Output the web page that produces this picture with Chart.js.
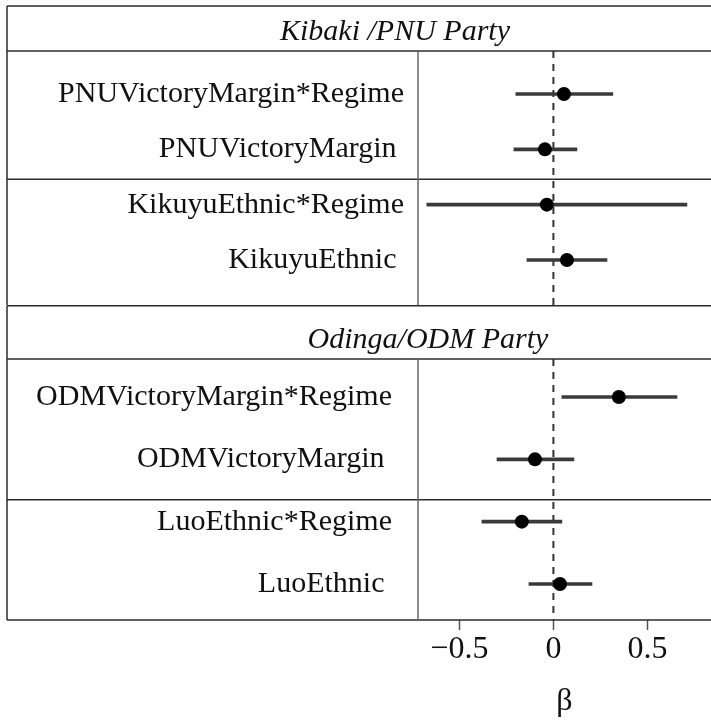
<!DOCTYPE html>
<html>
<head>
<meta charset="utf-8">
<script src="https://cdn.jsdelivr.net/npm/chart.js@4.4.0/dist/chart.umd.min.js"></script>
<style>
  html, body { margin: 0; padding: 0; background: #fff; }
  #wrap { position: relative; width: 711px; height: 721px; }
  canvas { position: absolute; left: 0; }
</style>
</head>
<body>
<div id="wrap">
  <canvas id="kibaki" width="711" height="305" style="top:0"></canvas>
  <canvas id="odinga" width="711" height="416" style="top:305px"></canvas>
</div>
<script>
// estimates and interval ends
const kibakiLabels = ['PNUVictoryMargin*Regime', 'PNUVictoryMargin ', 'KikuyuEthnic*Regime', 'KikuyuEthnic '];
const kibakiEst = [0.056, -0.045, -0.035, 0.072];
const kibakiLow = [-0.20, -0.21, -0.673, -0.141];
const kibakiHigh = [0.316, 0.125, 0.71, 0.285];

const odingaLabels = ['ODMVictoryMargin*Regime', 'ODMVictoryMargin ', 'LuoEthnic*Regime', 'LuoEthnic '];
const odingaEst = [0.348, -0.098, -0.168, 0.035];
const odingaLow = [0.045, -0.30, -0.38, -0.13];
const odingaHigh = [0.657, 0.109, 0.045, 0.205];

const xTicks = [-0.5, 0, 0.5];

const serif = '"Liberation Serif", "Times New Roman", serif';

// box lines, the party title and the dashed zero line
const framePlugin = {
    id: 'frame',
    beforeDatasetsDraw(chart, args, o) {
        const { ctx, chartArea: a, scales } = chart;
        const line = (x0, y0, x1, y1) => {
            ctx.beginPath();
            ctx.moveTo(x0, y0);
            ctx.lineTo(x1, y1);
            ctx.stroke();
        };
        const sep = scales.y.getPixelForValue(o.brk);
        ctx.save();
        ctx.strokeStyle = '#2b2b2b';
        ctx.lineWidth = 1.5;
        line(7, o.top, chart.width, o.top);
        line(7, a.top, chart.width, a.top);
        line(7, sep, chart.width, sep);
        if (o.closed) line(7, a.bottom, chart.width, a.bottom);
        line(7, o.top, 7, a.bottom);
        ctx.strokeStyle = '#666';
        line(a.left, a.top, a.left, a.bottom);

        const zx = scales.x.getPixelForValue(0);
        ctx.strokeStyle = '#333';
        ctx.lineWidth = 2;
        ctx.setLineDash([7, 6]);
        line(zx, a.top, zx, a.bottom);
        ctx.setLineDash([]);

        ctx.fillStyle = '#111';
        ctx.font = 'italic 30px ' + serif;
        ctx.textAlign = 'center';
        ctx.textBaseline = 'alphabetic';
        ctx.fillText(o.title, o.titleX, o.titleBase);
        ctx.restore();
    }
};

function sectionChart(id, labels, est, low, high, o) {
    return new Chart(document.getElementById(id), {
        type: 'bar',
        data: {
            datasets: [
                {
                    type: 'bar',
                    data: labels.map((l, i) => ({ y: i, x: [low[i], high[i]] })),
                    backgroundColor: '#3a3a3a',
                    barThickness: 3,
                    order: 2
                },
                {
                    type: 'scatter',
                    data: labels.map((l, i) => ({ y: i, x: est[i] })),
                    pointRadius: 7,
                    backgroundColor: '#000',
                    borderWidth: 0,
                    order: 1
                }
            ]
        },
        options: {
            indexAxis: 'y',
            responsive: false,
            animation: false,
            layout: { autoPadding: false, padding: { top: o.padTop, left: 0, right: 0, bottom: 0 } },
            plugins: {
                legend: { display: false },
                tooltip: { enabled: false },
                frame: o.frame
            },
            scales: {
                x: {
                    type: 'linear',
                    min: -0.72,
                    max: 0.838,
                    display: o.showX,
                    afterBuildTicks: s => { s.ticks = xTicks.map(v => ({ value: v })); },
                    afterFit: s => {
                        if (o.showX) s.height = o.axisHeight;
                        s.paddingLeft = 0;
                        s.paddingRight = 0;
                    },
                    grid: { drawOnChartArea: false, drawTicks: true, tickLength: 10, tickColor: '#555', tickWidth: 1.5 },
                    border: { display: false },
                    ticks: {
                        color: '#111',
                        font: { family: serif, size: 32 },
                        padding: 0,
                        autoSkip: false,
                        maxRotation: 0,
                        callback: v => v < 0 ? '\u2212' + Math.abs(v) : String(v)
                    },
                    title: { display: true, text: 'β', color: '#111', font: { family: serif, size: 32 }, padding: 0 }
                },
                y: {
                    type: 'linear',
                    reverse: true,
                    offset: false,
                    min: o.yMin,
                    max: o.yMax,
                    afterBuildTicks: s => { s.ticks = labels.map((l, i) => ({ value: i })); },
                    afterFit: s => {
                        s.width = 418;
                        s.paddingTop = 0;
                        s.paddingBottom = 0;
                    },
                    grid: { display: false, drawTicks: false, offset: false },
                    border: { display: false },
                    ticks: {
                        color: '#111',
                        font: { family: serif, size: 30 },
                        padding: o.labelPad,
                        autoSkip: false,
                        callback: v => labels[v]
                    }
                }
            }
        },
        plugins: [framePlugin]
    });
}

sectionChart('kibaki', kibakiLabels, kibakiEst, kibakiLow, kibakiHigh, {
    padTop: 51, showX: false, yMin: -0.777, yMax: 3.813, labelPad: 14,
    frame: { top: 6, brk: 1.54, closed: false, title: 'Kibaki /PNU Party', titleX: 395, titleBase: 40 }
});

sectionChart('odinga', odingaLabels, odingaEst, odingaLow, odingaHigh, {
    padTop: 54, showX: true, axisHeight: 101, yMin: -0.61, yMax: 3.578, labelPad: 26,
    frame: { top: 0.75, brk: 1.65, closed: true, title: 'Odinga/ODM Party', titleX: 428, titleBase: 43 }
});
</script>
</body>
</html>
